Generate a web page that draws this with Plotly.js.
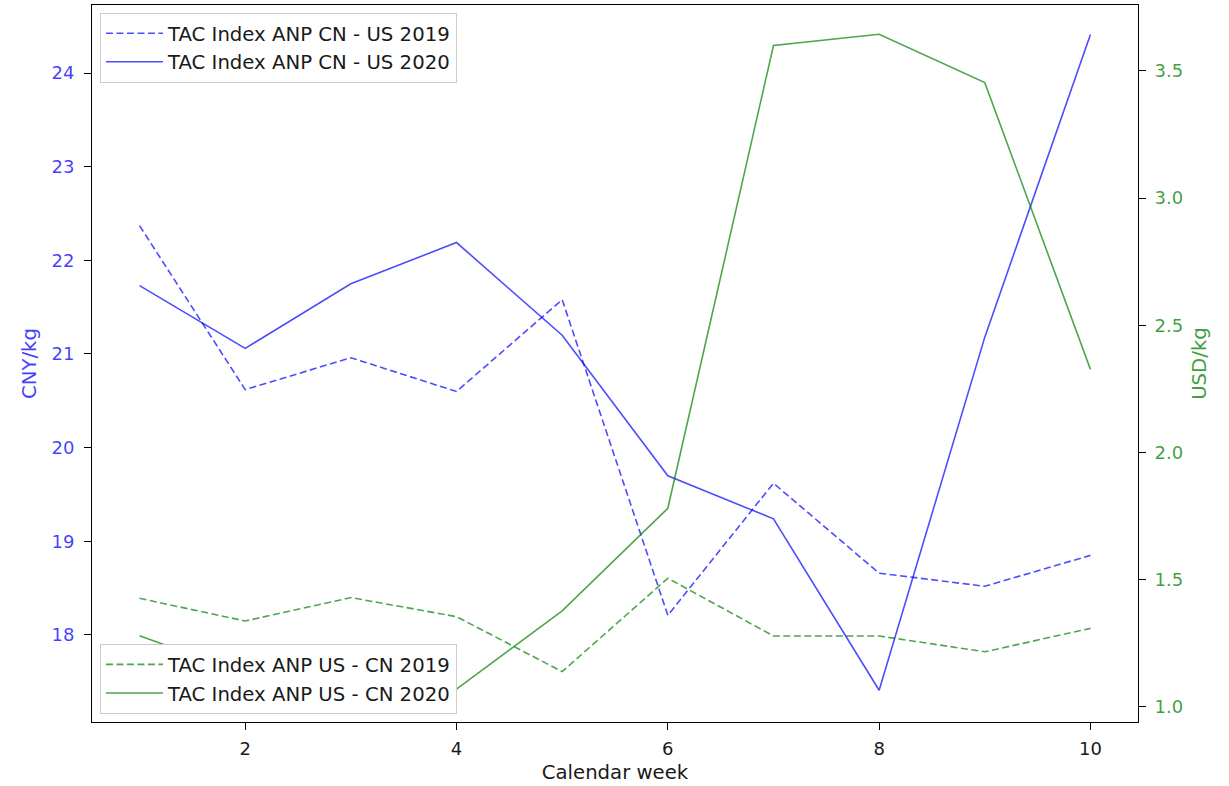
<!DOCTYPE html>
<html>
<head>
<meta charset="utf-8">
<script src="https://cdn.plot.ly/plotly-3.0.1.min.js"></script>
<style>
  html, body { margin: 0; padding: 0; background: #fff; }
  #chart { width: 1229px; height: 786px; }
</style>
</head>
<body>
<div id="chart"></div>
<script>
// Calendar weeks
const weeks = [1, 2, 3, 4, 5, 6, 7, 8, 9, 10];

// CNY/kg (left axis)
const cnUs2019 = [22.37, 20.62, 20.96, 20.60, 21.58, 18.21, 19.62, 18.66, 18.52, 18.85];
const cnUs2020 = [21.73, 21.06, 21.75, 22.19, 21.20, 19.70, 19.24, 17.41, 21.18, 24.41];

// USD/kg (right axis)
const usCn2019 = [1.427, 1.338, 1.430, 1.355, 1.139, 1.506, 1.279, 1.279, 1.217, 1.309];
const usCn2020 = [1.28, 1.13, 1.24, 1.07, 1.378, 1.781, 3.60, 3.644, 3.454, 2.327];

// Tick labels
const xTicks = [2, 4, 6, 8, 10];
const yLeftTicks = [18, 19, 20, 21, 22, 23, 24];
const yRightTicks = [1.0, 1.5, 2.0, 2.5, 3.0, 3.5];

const BLUE = 'rgba(0,0,255,0.7)';
const GREEN = 'rgba(0,128,0,0.7)';
const BLUE_TXT = 'rgba(0,0,255,0.75)';
const GREEN_TXT = 'rgba(0,128,0,0.75)';
const DASH = '7px,3.5px';
const FONT = 'DejaVu Sans, sans-serif';
const FS = 18;
const FSL = 19.7;
const TXT = '#1a1a1a';

const traces = [
  {x: weeks, y: cnUs2019, name: 'TAC Index ANP CN - US 2019', mode: 'lines',
   line: {color: BLUE, width: 1.6, dash: DASH}, yaxis: 'y', legend: 'legend', legendgroup: 'a'},
  {x: weeks, y: cnUs2020, name: 'TAC Index ANP CN - US 2020', mode: 'lines',
   line: {color: BLUE, width: 1.6}, yaxis: 'y', legend: 'legend', legendgroup: 'b'},
  {x: weeks, y: usCn2019, name: 'TAC Index ANP US - CN 2019', mode: 'lines',
   line: {color: GREEN, width: 1.6, dash: DASH}, yaxis: 'y2', legend: 'legend2', legendgroup: 'c'},
  {x: weeks, y: usCn2020, name: 'TAC Index ANP US - CN 2020', mode: 'lines',
   line: {color: GREEN, width: 1.6}, yaxis: 'y2', legend: 'legend2', legendgroup: 'd'}
];

const legendCommon = {
  bgcolor: '#ffffff',
  bordercolor: '#cccccc',
  borderwidth: 1,
  font: {family: FONT, size: FSL, color: TXT},
  xanchor: 'left',
  tracegroupgap: 0,
  itemwidth: 57
};

const layout = {
  width: 1229,
  height: 786,
  margin: {l: 92, r: 91, t: 5, b: 64},
  paper_bgcolor: '#ffffff',
  plot_bgcolor: '#ffffff',
  font: {family: FONT, size: FS, color: TXT},
  showlegend: true,
  xaxis: {
    range: [0.55, 10.45],
    tickvals: xTicks,
    ticktext: xTicks.map(String),
    ticks: 'outside', ticklen: 7, tickwidth: 1, tickcolor: '#000',
    ticklabelstandoff: 3,
    showline: true, linecolor: '#000', linewidth: 1, mirror: true,
    showgrid: false, zeroline: false,
    tickfont: {family: FONT, size: FS, color: TXT},
    title: {text: 'Calendar week', font: {family: FONT, size: FSL, color: TXT}, standoff: 7}
  },
  yaxis: {
    range: [17.071, 24.726],
    tickvals: yLeftTicks,
    ticktext: yLeftTicks.map(String),
    ticks: 'outside', ticklen: 7, tickwidth: 1, tickcolor: '#000',
    ticklabelstandoff: 6,
    showline: true, linecolor: '#000', linewidth: 1,
    showgrid: false, zeroline: false,
    tickfont: {family: FONT, size: FS, color: BLUE_TXT},
    title: {text: 'CNY/kg', font: {family: FONT, size: FSL, color: BLUE_TXT}, standoff: 9}
  },
  yaxis2: {
    overlaying: 'y',
    side: 'right',
    range: [0.941, 3.759],
    tickvals: yRightTicks,
    ticktext: yRightTicks.map(v => v.toFixed(1)),
    ticks: 'outside', ticklen: 7, tickwidth: 1, tickcolor: '#000',
    ticklabelstandoff: 5,
    showline: true, linecolor: '#000', linewidth: 1,
    showgrid: false, zeroline: false,
    tickfont: {family: FONT, size: FS, color: GREEN_TXT},
    title: {text: 'USD/kg', font: {family: FONT, size: FSL, color: GREEN_TXT}, standoff: 9}
  },
  legend: Object.assign({}, legendCommon, {x: 0.0076, y: 0.989, yanchor: 'top'}),
  legend2: Object.assign({}, legendCommon, {x: 0.0076, y: 0.011, yanchor: 'bottom'})
};

Plotly.newPlot('chart', traces, layout, {displayModeBar: false, staticPlot: true});
</script>
</body>
</html>
